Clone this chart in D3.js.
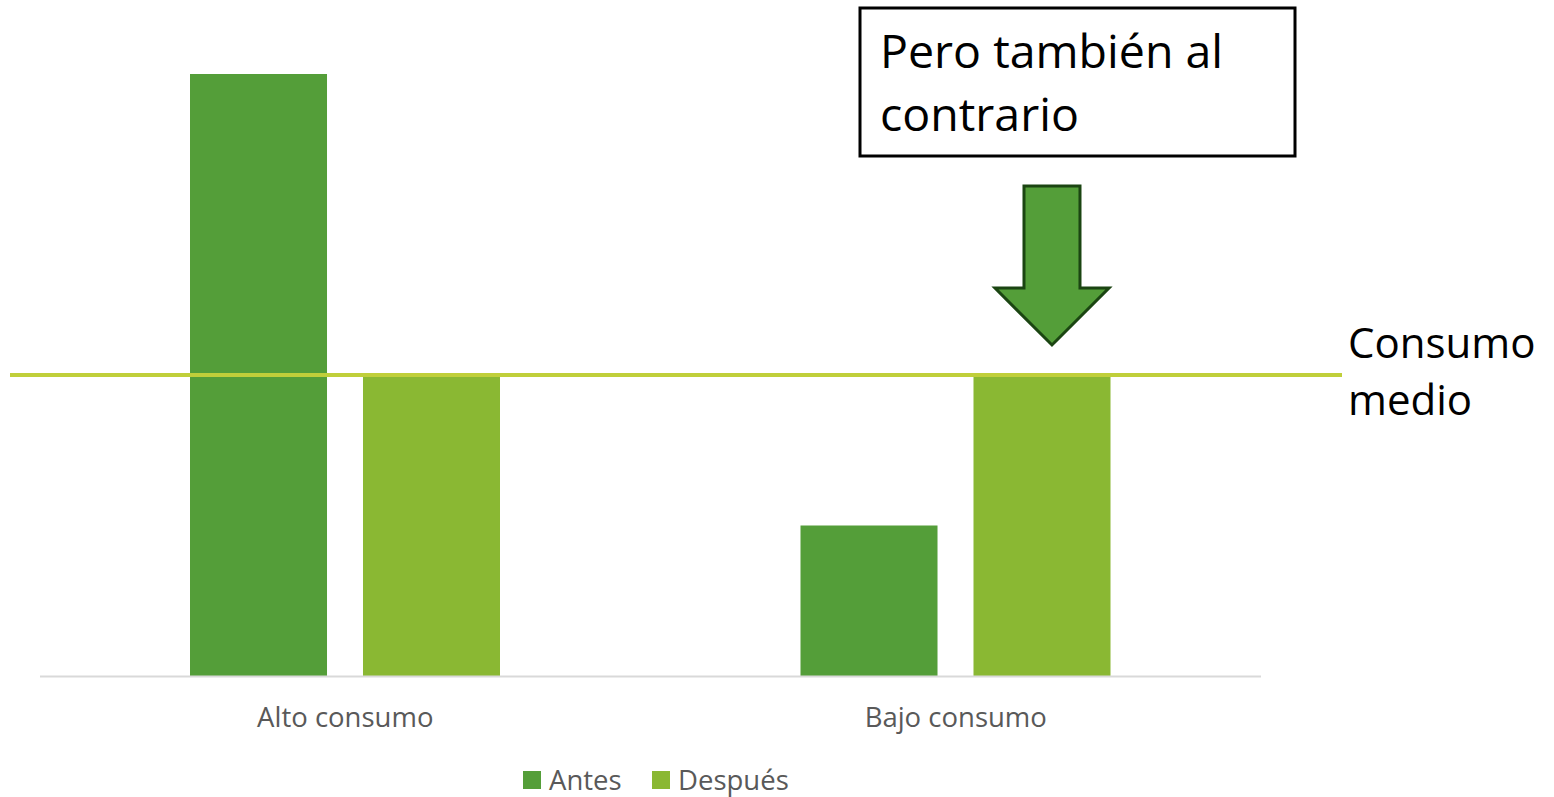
<!DOCTYPE html>
<html>
<head>
<meta charset="utf-8">
<script src="https://cdn.jsdelivr.net/npm/d3@7"></script>
<style>
  body { margin: 0; background: #fff; }
  text { font-family: "Open Sans", Lato, sans-serif; }
</style>
</head>
<body>
<div id="chart"></div>
<script>
// Chart data
const categories = ["Alto consumo", "Bajo consumo"];
const series = ["Antes", "Después"];
const antes = [4, 1];
const despues = [2, 2];
const consumoMedio = 2;
const seriesColors = ["#549e39", "#8ab833"];

const width = 1554;
const height = 797;

const svg = d3.select("#chart")
    .append("svg")
    .attr("width", width)
    .attr("height", height);

// Scales
const x0 = d3.scaleBand()
    .domain(categories)
    .range([40, 1261]);

const x1 = d3.scaleBand()
    .domain(series)
    .range([150, 460])
    .paddingInner(0.208);

const y = d3.scaleLinear()
    .domain([0, 4])
    .range([676, 74]);

const rows = categories.map((c, i) => ({
    category: c,
    values: [
        { key: "Antes", value: antes[i] },
        { key: "Después", value: despues[i] }
    ]
}));

// Bars
const groups = svg.selectAll("g.group")
    .data(rows)
    .enter()
    .append("g")
    .attr("class", "group")
    .attr("transform", d => `translate(${x0(d.category)},0)`);

groups.selectAll("rect")
    .data(d => d.values)
    .enter()
    .append("rect")
    .attr("x", d => x1(d.key))
    .attr("y", d => y(d.value))
    .attr("width", x1.bandwidth())
    .attr("height", d => y(0) - y(d.value))
    .attr("fill", (d, i) => seriesColors[i]);

// X axis line and labels
svg.append("line")
    .attr("x1", x0.range()[0])
    .attr("x2", x0.range()[1])
    .attr("y1", y(0) + 0.5)
    .attr("y2", y(0) + 0.5)
    .attr("stroke", "#d9d9d9")
    .attr("stroke-width", 2);

svg.selectAll("text.cat")
    .data(categories)
    .enter()
    .append("text")
    .attr("class", "cat")
    .attr("x", d => x0(d) + x0.bandwidth() / 2)
    .attr("y", y(0) + 51)
    .attr("text-anchor", "middle")
    .attr("font-size", 27.5)
    .attr("fill", "#595959")
    .text(d => d);

// Mean consumption line
svg.append("line")
    .attr("x1", 10)
    .attr("x2", 1342)
    .attr("y1", y(consumoMedio))
    .attr("y2", y(consumoMedio))
    .attr("stroke", "#c0cf3a")
    .attr("stroke-width", 4);

svg.append("text")
    .attr("x", 1348)
    .attr("y", y(consumoMedio) - 17)
    .attr("font-size", 42)
    .attr("fill", "#000")
    .selectAll("tspan")
    .data(["Consumo", "medio"])
    .enter()
    .append("tspan")
    .attr("x", 1348)
    .attr("dy", (d, i) => i === 0 ? 0 : 57)
    .text(d => d);

// Callout box
svg.append("rect")
    .attr("x", 860)
    .attr("y", 8)
    .attr("width", 435)
    .attr("height", 148)
    .attr("fill", "#fff")
    .attr("stroke", "#000")
    .attr("stroke-width", 3);

svg.append("text")
    .attr("font-size", 46.5)
    .attr("fill", "#000")
    .selectAll("tspan")
    .data(["Pero también al", "contrario"])
    .enter()
    .append("tspan")
    .attr("x", 880)
    .attr("y", (d, i) => 68 + i * 63)
    .text(d => d);

// Down arrow pointing at the mean line over "Bajo consumo / Después"
const ax = x0("Bajo consumo") + x1("Después") + x1.bandwidth() / 2 + 10;
const tipY = y(consumoMedio) - 30;
const arrow = [
    [ax - 28, 186], [ax + 28, 186], [ax + 28, 288], [ax + 57, 288],
    [ax, tipY], [ax - 57, 288], [ax - 28, 288]
];
svg.append("path")
    .attr("d", d3.line()(arrow) + "Z")
    .attr("fill", "#549e39")
    .attr("stroke", "#1b4512")
    .attr("stroke-width", 3)
    .attr("stroke-linejoin", "miter");

// Legend
const legend = svg.append("g")
    .attr("transform", "translate(523,771)");

const legendX = [0, 129];
const items = legend.selectAll("g")
    .data(series)
    .enter()
    .append("g")
    .attr("transform", (d, i) => `translate(${legendX[i]},0)`);

items.append("rect")
    .attr("width", 18)
    .attr("height", 18)
    .attr("fill", (d, i) => seriesColors[i]);

items.append("text")
    .attr("x", 26)
    .attr("y", 19)
    .attr("font-size", 27.5)
    .attr("fill", "#595959")
    .text(d => d);
</script>
</body>
</html>
